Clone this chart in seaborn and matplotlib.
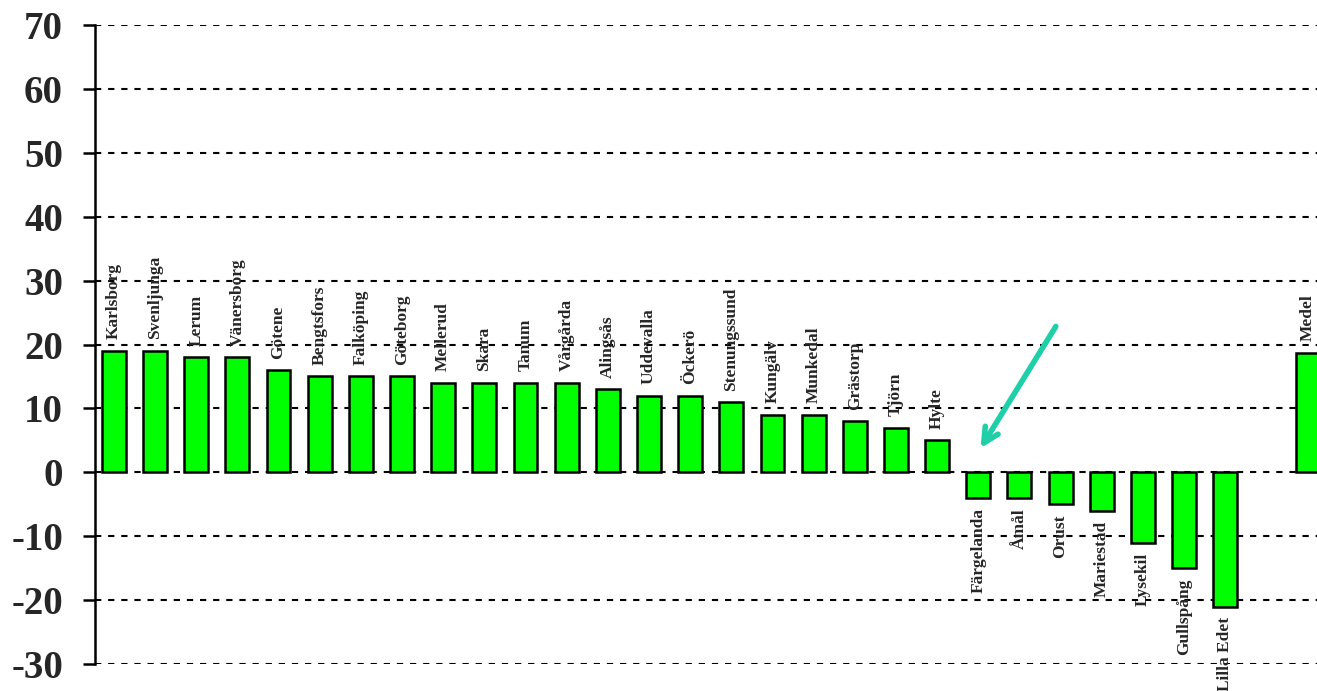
import pandas as pd
import numpy as np
import matplotlib
matplotlib.use("Agg")
import matplotlib.pyplot as plt
import seaborn as sns

# Data
kommuner = ["Karlsborg", "Svenljunga", "Lerum", "Vänersborg", "Götene",
            "Bengtsfors", "Falköping", "Göteborg", "Mellerud", "Skara",
            "Tanum", "Vårgårda", "Alingsås", "Uddevalla", "Öckerö",
            "Stenungssund", "Kungälv", "Munkedal", "Grästorp", "Tjörn",
            "Hylte", "Färgelanda", "Åmål", "Orust", "Mariestad",
            "Lysekil", "Gullspång", "Lilla Edet", "Medel"]
varden = [19, 19, 18, 18, 16, 15, 15, 15, 14, 14, 14, 14, 13, 12, 12,
          11, 9, 9, 8, 7, 5, -4, -4, -5, -6, -11, -15, -21, 18.7]
y_ticks = [-30, -20, -10, 0, 10, 20, 30, 40, 50, 60, 70]

df = pd.DataFrame({"kommun": kommuner, "varde": varden})
# empty slot before the average bar
order = kommuner[:-1] + [" "] + ["Medel"]

sns.set_theme(style="white")
plt.rcParams["font.family"] = ["Liberation Serif", "DejaVu Serif"]

fig = plt.figure(figsize=(13.17, 6.91), dpi=100)
ax = fig.add_axes([0.0721, 0.039, 0.9279, 0.9248])

sns.barplot(data=df, x="kommun", y="varde", order=order, color="#00FF00",
            saturation=1, width=0.58, edgecolor="black", linewidth=1.8, ax=ax)

ax.set_ylim(-30, 70)
ax.set_xlim(-0.46, 29.23)
ax.set_yticks(y_ticks)
ax.set_yticklabels([str(t) for t in y_ticks], fontsize=28, fontweight="bold")
ax.set_xticks([])
ax.set_xlabel("")
ax.set_ylabel("")

for t in y_ticks:
    ax.axhline(t, color="black", linestyle=(0, (3, 3.3)), linewidth=1.5,
               zorder=0)

for s in ["top", "right", "bottom"]:
    ax.spines[s].set_visible(False)
ax.spines["left"].set_color("black")
ax.spines["left"].set_linewidth(1.8)
ax.tick_params(axis="y", direction="out", length=9, width=1.8,
               color="black", pad=14, left=True)

# names rotated above/below each bar
pos = {k: i for i, k in enumerate(order)}
for k, v in zip(kommuner, varden):
    x = pos[k]
    if v >= 0:
        ax.text(x, v + 1.8, k, rotation=90, ha="center", va="bottom",
                fontsize=12.5, fontweight="bold", clip_on=False)
    else:
        ax.text(x, v - 1.6, k, rotation=90, ha="center", va="top",
                fontsize=12.5, fontweight="bold", clip_on=False)

ax.annotate("", xy=(21.02, 3.4), xytext=(22.92, 23.2),
            arrowprops=dict(arrowstyle="->,head_length=0.9,head_width=0.45",
                            color="#1ECFA8", lw=4))

fig.savefig("out.png", dpi=100)
